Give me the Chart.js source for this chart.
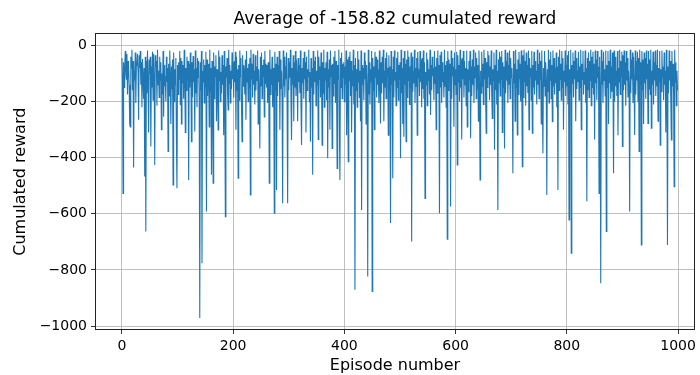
<!DOCTYPE html>
<html>
<head>
<meta charset="utf-8">
<script src="https://cdn.jsdelivr.net/npm/chart.js@4"></script>
<style>
  html, body { margin: 0; padding: 0; background: #fff; }
</style>
</head>
<body>
<canvas id="myChart" width="700" height="375"></canvas>
<script>
const chartTitle = "Average of -158.82 cumulated reward";
const xTitle = "Episode number";
const yTitle = "Cumulated reward";
const xTicks = [0, 200, 400, 600, 800, 1000];
const yTicks = [0, -200, -400, -600, -800, -1000];

// cumulated reward per episode (0..999)
const rewards = [
  -45,-110,-527,-60,-150,-85,-20,-95,-120,-30,-175,-55,-70,-140,-280,-290,-40,-80,-15,-160,
  -55,-435,-90,-125,-25,-205,-70,-60,-30,-95,-265,-35,-80,-20,-140,-60,-220,-48,-110,-190,
  -80,-467,-40,-663,-55,-170,-18,-130,-310,-50,-100,-40,-360,-75,-150,-22,-195,-30,-120,-426,
  -35,-75,-55,-215,-15,-140,-90,-185,-40,-125,-60,-300,-100,-175,-20,-254,-70,-145,-110,-200,
  -40,-130,-80,-378,-65,-180,-18,-110,-280,-75,-155,-50,-497,-25,-200,-85,-140,-45,-335,-509,
  -70,-175,-60,-120,-20,-210,-45,-280,-55,-135,-70,-190,-15,-100,-310,-80,-160,-40,-125,-55,
  -479,-65,-150,-25,-95,-343,-60,-185,-38,-130,-85,-307,-18,-170,-80,-220,-45,-115,-55,-200,
  -971,-60,-160,-20,-776,-90,-130,-50,-205,-70,-145,-22,-592,-50,-180,-65,-120,-290,-15,-165,
  -80,-461,-55,-140,-491,-25,-190,-75,-110,-35,-270,-85,-150,-301,-18,-125,-40,-200,-95,-170,
  -35,-140,-70,-320,-20,-180,-610,-75,-115,-45,-170,-230,-15,-135,-70,-205,-90,-155,-25,-120,
  -60,-185,-55,-130,-22,-300,-40,-160,-85,-473,-70,-195,-18,-110,-45,-215,-343,-35,-145,-70,
  -95,-175,-50,-265,-20,-130,-80,-200,-65,-150,-45,-533,-15,-120,-65,-185,-30,-140,-90,-210,
  -35,-160,-75,-125,-18,-280,-85,-170,-367,-40,-145,-25,-190,-70,-110,-50,-255,-20,-135,-65,
  -150,-70,-205,-60,-120,-491,-15,-175,-85,-140,-40,-220,-80,-105,-598,-22,-160,-65,-515,-40,
  -180,-70,-130,-20,-300,-50,-155,-90,-200,-562,-18,-145,-40,-185,-75,-120,-25,-210,-562,-45,
  -160,-60,-115,-15,-195,-337,-80,-140,-35,-270,-60,-150,-20,-180,-50,-105,-270,-45,-130,-70,
  -170,-18,-210,-355,-80,-135,-45,-190,-22,-120,-60,-310,-40,-160,-85,-110,-15,-200,-95,-343,
  -45,-150,-80,-461,-20,-175,-55,-130,-40,-215,-90,-140,-18,-335,-40,-120,-75,-185,-25,-145,
  -355,-60,-170,-15,-220,-80,-125,-60,-195,-22,-402,-85,-150,-50,-300,-18,-110,-70,-367,-65,
  -180,-40,-135,-20,-205,-55,-160,-438,-70,-120,-15,-280,-479,-45,-150,-25,-190,-65,-115,-60,
  -200,-75,-140,-18,-320,-50,-165,-414,-40,-125,-22,-180,-55,-310,-90,-145,-15,-210,-70,-871,
  -45,-160,-85,-220,-20,-130,-50,-185,-90,-270,-18,-586,-70,-140,-80,-195,-25,-120,-55,-280,
  -70,-150,-823,-15,-175,-60,-210,-85,-130,-20,-877,-45,-160,-75,-300,-22,-115,-40,-185,-50,
  -140,-85,-205,-18,-120,-278,-60,-170,-40,-135,-15,-270,-90,-150,-45,-190,-25,-110,-80,-320,
  -35,-160,-75,-633,-20,-140,-85,-473,-40,-185,-18,-125,-95,-215,-45,-150,-22,-195,-70,-120,
  -60,-402,-15,-170,-80,-280,-45,-325,-20,-140,-65,-343,-50,-185,-18,-125,-40,-210,-75,-150,
  -25,-699,-40,-165,-90,-135,-15,-205,-80,-145,-45,-320,-22,-115,-85,-180,-20,-130,-50,-220,
  -45,-155,-18,-190,-60,-545,-95,-140,-25,-215,-50,-125,-85,-175,-15,-248,-70,-160,-40,-110,
  -80,-195,-20,-135,-75,-300,-45,-170,-18,-120,-70,-598,-35,-150,-22,-205,-60,-130,-95,-185,
  -15,-145,-70,-220,-55,-690,-20,-160,-50,-125,-65,-574,-18,-190,-45,-110,-75,-290,-25,-140,
  -85,-175,-22,-426,-35,-130,-70,-200,-15,-150,-50,-335,-45,-120,-20,-185,-55,-140,-80,-215,
  -18,-290,-85,-165,-55,-125,-20,-331,-75,-180,-50,-140,-15,-205,-75,-115,-25,-190,-45,-155,
  -70,-270,-18,-130,-479,-90,-170,-22,-145,-65,-210,-15,-120,-45,-185,-313,-60,-150,-20,-110,
  -35,-195,-75,-140,-18,-175,-260,-85,-125,-25,-372,-70,-160,-15,-210,-90,-586,-50,-135,-22,
  -180,-40,-120,-20,-310,-60,-150,-75,-367,-15,-170,-55,-125,-25,-205,-70,-140,-18,-190,-45,
  -115,-80,-160,-455,-20,-135,-65,-270,-15,-150,-85,-319,-50,-175,-22,-120,-65,-200,-18,-140,
  -432,-35,-185,-15,-130,-55,-215,-25,-145,-70,-170,-18,-300,-45,-110,-80,-195,-20,-313,-70,
  -150,-22,-175,-55,-125,-90,-210,-15,-140,-65,-190,-25,-120,-55,-280,-18,-160,-384,-80,-145,
  -20,-180,-60,-130,-533,-85,-165,-15,-205,-50,-125,-22,-190,-70,-272,-18,-145,-45,-175,-80,
  -135,-25,-220,-75,-515,-40,-160,-15,-120,-65,-195,-20,-150,-45,-300,-90,-130,-18,-180,-70,
  -145,-35,-210,-20,-622,-85,-170,-15,-740,-70,-135,-25,-185,-55,-120,-18,-270,-45,-155,-90,
  -130,-22,-195,-75,-150,-15,-300,-65,-120,-20,-175,-95,-140,-18,-205,-80,-555,-45,-160,-25,
  -185,-55,-125,-15,-215,-40,-150,-22,-175,-65,-335,-18,-135,-50,-195,-20,-115,-75,-527,-40,
  -160,-847,-15,-140,-55,-205,-22,-125,-85,-180,-18,-663,-70,-150,-20,-280,-55,-135,-15,-190,
  -75,-165,-25,-120,-455,-18,-200,-40,-145,-90,-180,-20,-320,-80,-130,-15,-175,-55,-110,-22,
  -360,-35,-160,-18,-140,-60,-215,-20,-125,-45,-185,-90,-150,-592,-15,-170,-50,-120,-25,-205,
  -40,-150,-319,-18,-175,-55,-125,-22,-200,-45,-378,-15,-140,-60,-711,-20,-160,-50,-280,-25,
  -135,-45,-190,-18,-120,-65,-278,-20,-155,-50,-175,-15,-295,-90,-140,-22,-210,-60,-125,-18,
  -180,-70,-145,-15,-270,-80,-130,-20,-355,-85,-165,-18,-115,-75,-195,-25,-140,-90,-310,-15,
  -150,-711,-75,-170,-18,-125,-55,-200,-337,-20,-145,-65,-180,-503,-15,-130,-60,-215,-90,-160
];

// matplotlib style minus sign on negative tick labels
function tickLabel(v) {
  return v < 0 ? "\u2212" + Math.abs(v) : String(v);
}

// box round the plot area, like the axes spines
const frame = {
  id: "frame",
  afterDraw(chart) {
    const a = chart.chartArea;
    const c = chart.ctx;
    c.save();
    c.strokeStyle = "#222";
    c.lineWidth = 1;
    c.strokeRect(Math.round(a.left) + 0.5, Math.round(a.top) + 0.5,
      Math.round(a.right - a.left) - 1, Math.round(a.bottom - a.top) - 1);
    c.restore();
  }
};

Chart.defaults.font.family = "'DejaVu Sans', sans-serif";
Chart.defaults.color = "#000";

var ctx = document.getElementById("myChart");
var myChart = new Chart(ctx, {
  type: "line",
  data: {
    datasets: [{
      data: rewards.map((r, i) => ({ x: i, y: r })),
      borderColor: "#1f77b4",
      borderWidth: 1.1,
      pointRadius: 0,
      tension: 0,
      fill: false
    }]
  },
  options: {
    responsive: false,
    animation: false,
    layout: { padding: { top: 0, right: 3, bottom: 0, left: 0 } },
    plugins: {
      legend: { display: false },
      tooltip: { enabled: false },
      title: {
        display: true,
        text: chartTitle,
        fullSize: false,
        color: "#000",
        font: { size: 17, weight: "normal" },
        padding: { top: 9, bottom: 4 }
      }
    },
    scales: {
      x: {
        type: "linear",
        min: -48.4,
        max: 1030.5,
        afterBuildTicks: s => { s.ticks = xTicks.map(v => ({ value: v })); },
        afterFit: s => { s.height = 45; },
        ticks: { font: { size: 14 }, color: "#000", padding: 4, maxRotation: 0, callback: tickLabel },
        grid: { color: "#b0b0b0", lineWidth: 0.8, tickColor: "#000", tickLength: 4 },
        border: { display: false },
        title: { display: true, text: xTitle, color: "#000", font: { size: 16 }, padding: { top: 0, bottom: 0 } }
      },
      y: {
        min: -1014,
        max: 43,
        afterBuildTicks: s => { s.ticks = yTicks.map(v => ({ value: v })); },
        afterFit: s => { s.width = 95; },
        ticks: { font: { size: 14 }, color: "#000", padding: 4, callback: tickLabel },
        grid: { color: "#b0b0b0", lineWidth: 0.8, tickColor: "#000", tickLength: 4 },
        border: { display: false },
        title: { display: true, text: yTitle, color: "#000", font: { size: 16 }, padding: { top: 11, bottom: 0 } }
      }
    }
  },
  plugins: [frame]
});
</script>
</body>
</html>
